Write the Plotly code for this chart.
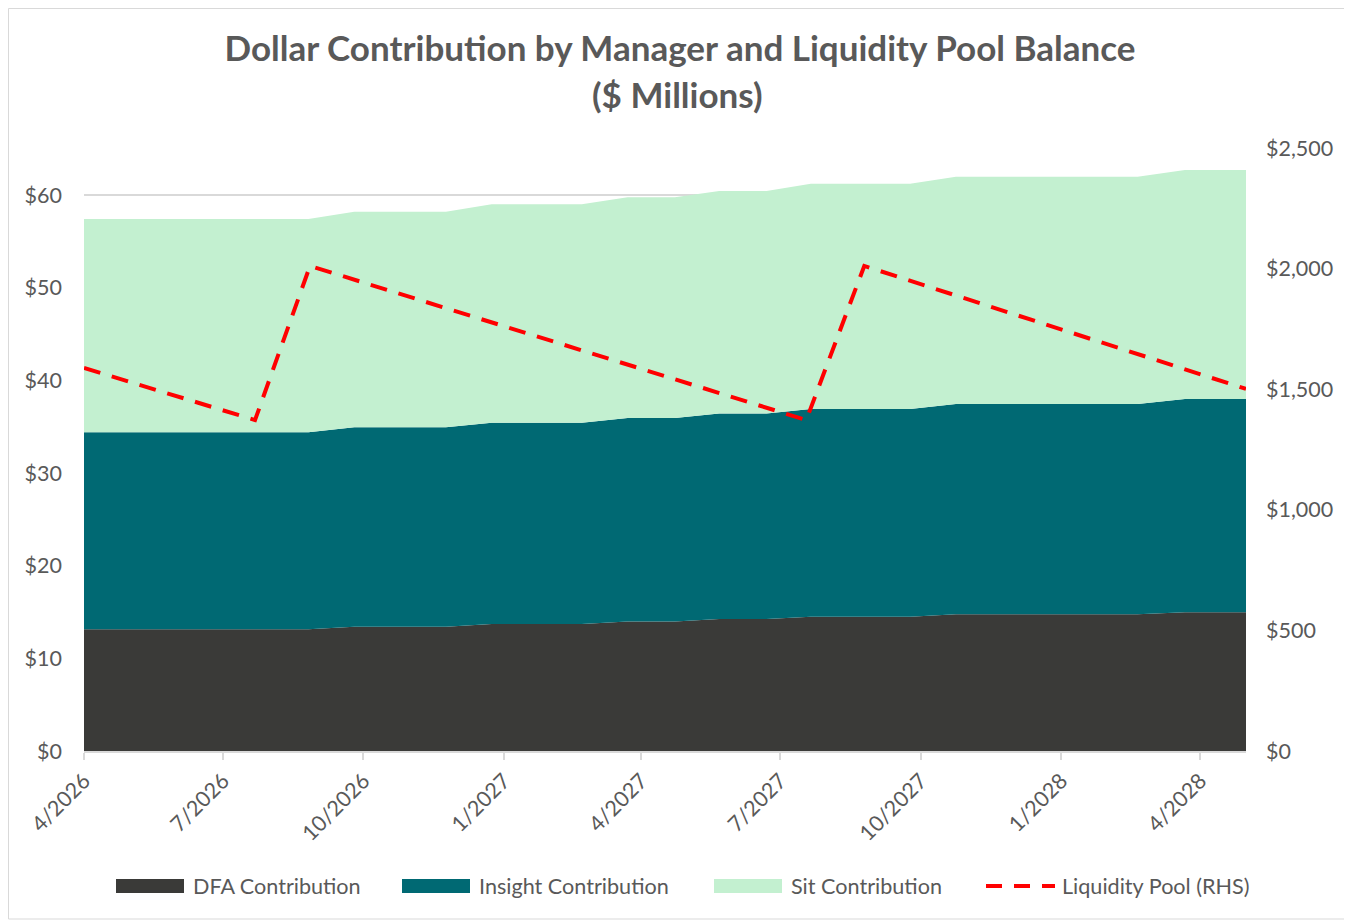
import plotly.graph_objects as go

# ---------------- data ----------------
area_dates = ["2026-04-01", "2026-08-26", "2026-09-25", "2026-11-24", "2026-12-24",
              "2027-02-21", "2027-03-23", "2027-04-23", "2027-05-22", "2027-06-22",
              "2027-07-21", "2027-09-24", "2027-10-24", "2028-02-20", "2028-03-22",
              "2028-05-01"]
dfa_contribution = [13.13, 13.13, 13.41, 13.41, 13.70, 13.70, 13.98, 13.98,
                    14.25, 14.25, 14.50, 14.50, 14.75, 14.75, 14.98, 14.98]
insight_contribution = [21.26, 21.26, 21.52, 21.52, 21.72, 21.72, 21.95, 21.95,
                        22.18, 22.18, 22.40, 22.40, 22.70, 22.70, 23.00, 23.00]
sit_contribution = [23.02, 23.02, 23.27, 23.27, 23.57, 23.57, 23.82, 23.82,
                    24.00, 24.00, 24.32, 24.32, 24.52, 24.52, 24.71, 24.71]

liquidity_dates = ["2026-04-01", "2026-07-22", "2026-08-27", "2027-07-18",
                   "2027-08-25", "2028-05-01"]
liquidity_pool = [1588, 1372, 2011, 1372, 2011, 1501]

series_names = ["DFA Contribution", "Insight Contribution", "Sit Contribution",
                "Liquidity Pool (RHS)"]
colors = ["#3A3A38", "#006973", "#C3F0D0", "#FF0000"]

# ---------------- geometry helpers ----------------
OFF = 8                      # page body margin
W, H = 1352 - OFF, 922 - OFF
L, R, T, B = 84 - OFF, 1246 - OFF, 148 - OFF, 751 - OFF   # plot area (figure px)


def px(x):
    """page-pixel x -> paper coordinate"""
    return (x - OFF - L) / (R - L)


def py(y):
    """page-pixel y -> paper coordinate"""
    return (B - (y - OFF)) / (B - T)


FONT = "Lato, 'Open Sans', sans-serif"
GREY = "#595959"
TICK = 21.5
LEG = 21.6

fig = go.Figure()

for name, vals, col in zip(series_names[:3],
                           [dfa_contribution, insight_contribution, sit_contribution],
                           colors[:3]):
    fig.add_trace(go.Scatter(
        x=area_dates, y=vals, name=name, mode="lines",
        stackgroup="one", line=dict(width=0, color=col),
        fillcolor=col, showlegend=False, hoverinfo="skip"))

fig.add_trace(go.Scatter(
    x=liquidity_dates, y=liquidity_pool, name=series_names[3], mode="lines",
    yaxis="y2", line=dict(color=colors[3], width=4, dash="17px,12px"),
    showlegend=False, hoverinfo="skip"))

fig.update_layout(
    width=W, height=H,
    margin=dict(l=L, r=W - R, t=T, b=H - B, autoexpand=False),
    paper_bgcolor="white", plot_bgcolor="white",
    font=dict(family=FONT, color=GREY, size=TICK),
    title=dict(text="<b>Dollar Contribution by Manager and Liquidity Pool Balance</b>",
               x=0.5, xanchor="center", y=1 - (49 - OFF) / H, yanchor="middle",
               font=dict(family=FONT, size=35, color=GREY)),
    xaxis=dict(type="date", range=["2026-04-01", "2028-05-01"],
               tick0="2026-04-01", dtick="M3", tickformat="%-m/%Y",
               tickangle=-45, ticks="outside", ticklen=7, tickwidth=1.5,
               tickcolor="#D9D9D9", showline=True, linecolor="#D9D9D9",
               linewidth=1.5, showgrid=False, zeroline=False,
               tickfont=dict(size=TICK, color=GREY)),
    yaxis=dict(range=[0, 65.07], dtick=10, tickprefix="$", showgrid=True,
               gridcolor="#D9D9D9", gridwidth=1.5, zeroline=False,
               showline=False, ticklabelstandoff=21,
               tickfont=dict(size=TICK, color=GREY)),
    yaxis2=dict(range=[0, 2500], dtick=500, tickformat="$,.0f",
                overlaying="y", side="right", showgrid=False, zeroline=False,
                showline=False, ticklabelstandoff=19,
                tickfont=dict(size=TICK, color=GREY)),
    showlegend=False,
)

annotations = [dict(text="<b>($ Millions)</b>", x=px(677), y=py(94),
                    xref="paper", yref="paper", showarrow=False,
                    xanchor="center", yanchor="middle",
                    font=dict(family=FONT, size=35, color=GREY))]
shapes = [dict(type="rect", xref="paper", yref="paper",
               x0=px(OFF + 0.5), x1=px(1351), y0=py(OFF + 0.5), y1=py(919),
               line=dict(color="#D9D9D9", width=1), fillcolor="rgba(0,0,0,0)",
               layer="below")]

# legend (bottom)
leg_y = 886
swatches = [(116, 184, 191), (402, 470, 477), (714, 782, 789)]
for (x0, x1, tx), name, col in zip(swatches, series_names[:3], colors[:3]):
    shapes.append(dict(type="rect", xref="paper", yref="paper",
                       x0=px(x0), x1=px(x1), y0=py(leg_y + 7), y1=py(leg_y - 7),
                       fillcolor=col, line=dict(width=0)))
    annotations.append(dict(text=name, x=px(tx), y=py(leg_y), xref="paper",
                            yref="paper", showarrow=False, xanchor="left",
                            yanchor="middle", font=dict(size=LEG, color=GREY)))
shapes.append(dict(type="line", xref="paper", yref="paper",
                   x0=px(986), x1=px(1055), y0=py(leg_y), y1=py(leg_y),
                   line=dict(color=colors[3], width=4, dash="16px,12px")))
annotations.append(dict(text=series_names[3], x=px(1060), y=py(leg_y),
                        xref="paper", yref="paper", showarrow=False,
                        xanchor="left", yanchor="middle",
                        font=dict(size=LEG, color=GREY)))

fig.update_layout(annotations=annotations, shapes=shapes)

fig.write_html("out.html")
